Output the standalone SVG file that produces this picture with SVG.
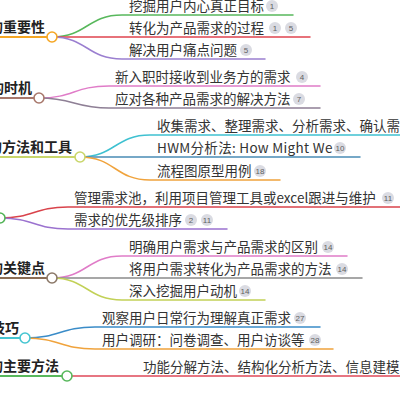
<svg xmlns="http://www.w3.org/2000/svg" width="400" height="400" viewBox="0 0 400 400">
<style>
.bg{fill:#ffffff}
.l{fill:none;stroke-width:1.5;stroke-linecap:round}
.u{fill:none;stroke-width:2}
.c{fill:#ffffff;stroke-width:1.6}
.t{font-family:"Noto Sans CJK SC","Noto Sans",sans-serif;font-size:13.5px;fill:#333333}
.w{letter-spacing:0.3px}
.n{font-family:"Noto Sans CJK SC","Noto Sans",sans-serif;font-size:14px;font-weight:bold;fill:#222222;text-anchor:end}
.b circle{fill:#dadbe2}
.b text{font-family:"Liberation Sans","Noto Sans",sans-serif;font-size:8px;fill:#606060;text-anchor:middle}
</style>
<rect class="bg" x="0" y="0" width="400" height="400"/>
<g id="connectors">
  <path class="l" stroke="#58b85c" d="M52 37 C87 37 87 15 122 15 L293 15"/>
  <path class="l" stroke="#e0444f" d="M52 37 L310 37"/>
  <path class="l" stroke="#9b7fd0" d="M52 37 C87 37 87 59 122 59 L265 59"/>
  <path class="l" stroke="#e07cc8" d="M39 98 C74 98 74 86 109 86 L320 86"/>
  <path class="l" stroke="#8e7f95" d="M39 98 C74 98 74 108 109 108 L320 108"/>
  <path class="l" stroke="#3fc1d1" d="M80 157 C115 157 115 135 150 135 L400 135"/>
  <path class="l" stroke="#4a8cb5" d="M80 157 L360 157"/>
  <path class="l" stroke="#f0a33c" d="M80 157 C115 157 115 180 150 180 L280 180"/>
  <path class="l" stroke="#d9434b" d="M0 218 C34 218 34 207 68 207 L400 207"/>
  <path class="l" stroke="#9b72cf" d="M0 218 C34 218 34 229 68 229 L227 229"/>
  <path class="l" stroke="#e07cc8" d="M52 278 C87 278 87 256 122 256 L347 256"/>
  <path class="l" stroke="#8a8a8a" d="M52 278 L362 278"/>
  <path class="l" stroke="#c2d157" d="M52 278 C87 278 87 300 122 300 L265 300"/>
  <path class="l" stroke="#3a8cc8" d="M25 338 C60 338 60 327 95 327 L320 327"/>
  <path class="l" stroke="#f0a33c" d="M25 338 C60 338 60 349 95 349 L333 349"/>
  <path class="l" stroke="#e04a5a" d="M67 376 L400 376"/>
</g>
<g id="node1">
  <line class="u" stroke="#f5a623" x1="0" y1="37" x2="52" y2="37"/>
  <text class="n" x="45" y="32">的重要性</text>
  <circle class="c" stroke="#f5a623" cx="52" cy="37" r="5"/>
</g>
<g id="node1-1"><text class="t" x="129" y="10.5">挖掘用户内心真正目标</text><g class="b"><circle cx="272" cy="6" r="6"/><text x="272" y="8.8">1</text></g></g>
<g id="node1-2"><text class="t" x="129" y="32.5">转化为产品需求的过程</text><g class="b"><circle cx="275" cy="28" r="6"/><text x="275" y="30.8">1</text><circle cx="291" cy="28" r="6"/><text x="291" y="30.8">5</text></g></g>
<g id="node1-3"><text class="t" x="129" y="54.5">解决用户痛点问题</text><g class="b"><circle cx="246" cy="50" r="6"/><text x="246" y="52.8">5</text></g></g>

<g id="node2">
  <line class="u" stroke="#a8786c" x1="0" y1="98" x2="39" y2="98"/>
  <text class="n" x="32" y="93">的时机</text>
  <circle class="c" stroke="#a8786c" cx="39" cy="98" r="5"/>
</g>
<g id="node2-1"><text class="t" x="115" y="81.5">新入职时接收到业务方的需求</text><g class="b"><circle cx="302" cy="77" r="6"/><text x="302" y="79.8">4</text></g></g>
<g id="node2-2"><text class="t" x="115" y="103.5">应对各种产品需求的解决方法</text><g class="b"><circle cx="299" cy="99" r="6"/><text x="299" y="101.8">7</text></g></g>

<g id="node3">
  <line class="u" stroke="#c9d66b" x1="0" y1="157" x2="80" y2="157"/>
  <text class="n" x="72" y="152">的方法和工具</text>
  <circle class="c" stroke="#c9d66b" cx="80" cy="157" r="5"/>
</g>
<g id="node3-1"><text class="t" x="157" y="130.5">收集需求、整理需求、分析需求、确认需求</text></g>
<g id="node3-2"><text class="t w" x="157" y="152.5">HWM分析法: How Might We</text><g class="b"><circle cx="340" cy="148" r="6"/><text x="340" y="150.8">10</text></g></g>
<g id="node3-3"><text class="t" x="157" y="175.5">流程图原型用例</text><g class="b"><circle cx="260" cy="171" r="6"/><text x="260" y="173.8">18</text></g></g>

<g id="node4">
  <circle class="c" stroke="#52b356" cx="0" cy="218" r="5"/>
</g>
<g id="node4-1"><text class="t" x="74" y="202.5">管理需求池，利用项目管理工具或excel跟进与维护</text><g class="b"><circle cx="388" cy="198" r="6"/><text x="388" y="200.8">11</text></g></g>
<g id="node4-2"><text class="t" x="74" y="224.5">需求的优先级排序</text><g class="b"><circle cx="191" cy="220" r="6"/><text x="191" y="222.8">2</text><circle cx="207" cy="220" r="6"/><text x="207" y="222.8">11</text></g></g>

<g id="node5">
  <line class="u" stroke="#8a6d55" x1="0" y1="278" x2="52" y2="278"/>
  <text class="n" x="45" y="273">的关键点</text>
  <circle class="c" stroke="#8b7868" cx="52" cy="278" r="5"/>
</g>
<g id="node5-1"><text class="t" x="129" y="251.5">明确用户需求与产品需求的区别</text><g class="b"><circle cx="328" cy="247" r="6"/><text x="328" y="249.8">14</text></g></g>
<g id="node5-2"><text class="t" x="129" y="273.5">将用户需求转化为产品需求的方法</text><g class="b"><circle cx="342" cy="269" r="6"/><text x="342" y="271.8">14</text></g></g>
<g id="node5-3"><text class="t" x="129" y="295.5">深入挖掘用户动机</text><g class="b"><circle cx="245" cy="291" r="6"/><text x="245" y="293.8">14</text></g></g>

<g id="node6">
  <line class="u" stroke="#45c5d1" x1="0" y1="338" x2="25" y2="338"/>
  <text class="n" x="19" y="333">技巧</text>
  <circle class="c" stroke="#45c5d1" cx="25" cy="338" r="5"/>
</g>
<g id="node6-1"><text class="t" x="102" y="322.5">观察用户日常行为理解真正需求</text><g class="b"><circle cx="300" cy="318" r="6"/><text x="300" y="320.8">27</text></g></g>
<g id="node6-2"><text class="t" x="102" y="344.5">用户调研：问卷调查、用户访谈等</text><g class="b"><circle cx="315" cy="340" r="6"/><text x="315" y="342.8">28</text></g></g>

<g id="node7">
  <line class="u" stroke="#58b85c" x1="0" y1="376" x2="67" y2="376"/>
  <text class="n" x="59" y="371">的主要方法</text>
  <circle class="c" stroke="#58b85c" cx="67" cy="376" r="5"/>
</g>
<g id="node7-1"><text class="t" x="143" y="371.5">功能分解方法、结构化分析方法、信息建模</text></g>
</svg>
